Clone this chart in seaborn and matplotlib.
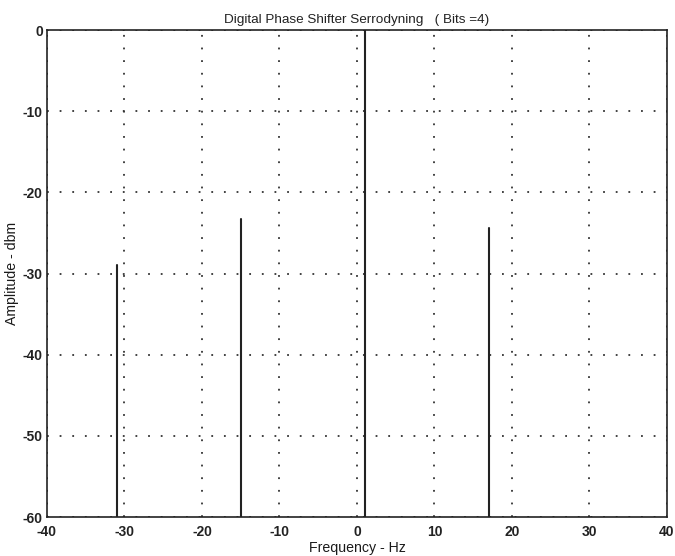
import matplotlib
matplotlib.use("Agg")
import matplotlib.pyplot as plt
import seaborn as sns
import pandas as pd

# Spectral components of the serrodyne output
freqs = [-31.0, -15.0, 1.0, 17.0]
peaks = [-28.9, -23.3, 0.0, -24.4]
floor_db = -60.0

xticks = [-40, -30, -20, -10, 0, 10, 20, 30, 40]
yticks = [-60, -50, -40, -30, -20, -10, 0]

rows = []
for i, (f, p) in enumerate(zip(freqs, peaks)):
    rows.append({"line": i, "freq": f, "amp": floor_db})
    rows.append({"line": i, "freq": f, "amp": p})
df = pd.DataFrame(rows)

sns.set_style("white")
plt.rcParams["font.family"] = ["Liberation Sans", "DejaVu Sans"]

fig = plt.figure(figsize=(6.75, 5.56), dpi=100)
ax = fig.add_axes([0.0696, 0.070, 0.9184, 0.876])

sns.lineplot(data=df, x="freq", y="amp", units="line", estimator=None,
             color="#222222", linewidth=1.5, ax=ax, legend=False)

ax.set_xlim(-40, 40)
ax.set_ylim(-60, 0)
ax.set_xticks(xticks)
ax.set_yticks(yticks)
ax.set_xticklabels([str(t) for t in xticks], fontsize=10, fontweight="bold", color="#222222")
ax.set_yticklabels([str(t) for t in yticks], fontsize=10, fontweight="bold", color="#222222")
ax.tick_params(direction="in", length=4, width=1, color="#222222")
ax.tick_params(axis="x", pad=6)
ax.tick_params(axis="y", pad=3)
ax.grid(True, color="#333333", linestyle=(0, (1, 6)), linewidth=1.3)
for s in ax.spines.values():
    s.set_color("#222222")
    s.set_linewidth(1.2)

ax.set_xlabel("Frequency - Hz", fontsize=10.2, color="#1a1a1a", labelpad=1)
ax.set_ylabel("Amplitude - dbm", fontsize=10.2, color="#1a1a1a", labelpad=3)
ax.set_title("Digital Phase Shifter Serrodyning   ( Bits =4)", fontsize=9.7,
             color="#222222", pad=5)

fig.savefig("out.png", dpi=100)
